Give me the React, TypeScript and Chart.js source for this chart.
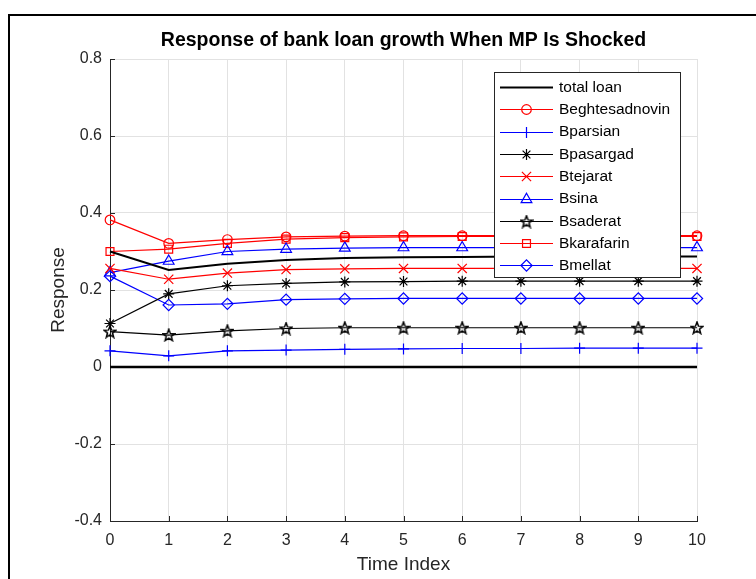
import React, { useEffect, useRef } from "react";
import { Chart, registerables } from "chart.js";

Chart.register(...registerables);

// ---------------- data ----------------
const timeIndex = [0, 1, 2, 3, 4, 5, 6, 7, 8, 9, 10];
const totalLoan = [0.300, 0.252, 0.268, 0.278, 0.283, 0.285, 0.286, 0.287, 0.287, 0.287, 0.287];
const beghtesadnovin = [0.382, 0.321, 0.331, 0.338, 0.340, 0.341, 0.341, 0.341, 0.341, 0.341, 0.341];
const bparsian = [0.042, 0.029, 0.042, 0.044, 0.046, 0.047, 0.048, 0.048, 0.049, 0.049, 0.049];
const bpasargad = [0.113, 0.190, 0.211, 0.217, 0.221, 0.222, 0.223, 0.223, 0.223, 0.223, 0.223];
const btejarat = [0.256, 0.228, 0.244, 0.253, 0.255, 0.256, 0.256, 0.256, 0.256, 0.256, 0.256];
const bsina = [0.245, 0.275, 0.300, 0.306, 0.309, 0.310, 0.310, 0.310, 0.310, 0.310, 0.310];
const bsaderat = [0.092, 0.083, 0.094, 0.100, 0.102, 0.102, 0.102, 0.102, 0.102, 0.102, 0.102];
const bkarafarin = [0.300, 0.306, 0.321, 0.332, 0.336, 0.338, 0.339, 0.339, 0.339, 0.339, 0.339];
const bmellat = [0.236, 0.161, 0.164, 0.175, 0.177, 0.178, 0.178, 0.178, 0.178, 0.178, 0.178];
const zeroLine = [0, 0, 0, 0, 0, 0, 0, 0, 0, 0, 0];

const seriesNames = [
  "total loan",
  "Beghtesadnovin",
  "Bparsian",
  "Bpasargad",
  "Btejarat",
  "Bsina",
  "Bsaderat",
  "Bkarafarin",
  "Bmellat",
];
const seriesValues = [
  totalLoan,
  beghtesadnovin,
  bparsian,
  bpasargad,
  btejarat,
  bsina,
  bsaderat,
  bkarafarin,
  bmellat,
];
const yTickValues = [-0.4, -0.2, 0, 0.2, 0.4, 0.6, 0.8];
const chartTitle = "Response of bank loan growth When MP Is Shocked";
const xTitle = "Time Index";
const yTitle = "Response";

// ---------------- styles ----------------
const RED = "#ff0000";
const BLUE = "#0000ff";
const BLACK = "#000000";
const seriesColors = [BLACK, RED, BLUE, BLACK, RED, BLUE, BLACK, RED, BLUE];
const seriesMarkers = ["none", "circle", "cross", "star", "crossRot", "triangle", "pentagram", "rect", "rectRot"];
const markerRadius: Record<string, number> = {
  none: 0,
  circle: 4.8,
  cross: 5.5,
  star: 5.5,
  crossRot: 6.5,
  triangle: 6.2,
  pentagram: 6,
  rect: 5.6,
  rectRot: 5.6,
};
const FONT = '"Liberation Sans", Arial, Helvetica, sans-serif';
const LW = 1.2;

function makePentagram(size: number, color: string): HTMLCanvasElement {
  const c = document.createElement("canvas");
  c.width = size;
  c.height = size;
  const ctx = c.getContext("2d")!;
  const cx = size / 2;
  const cy = size / 2 + 0.5;
  const R = size / 2 - 0.8;
  const r = R * 0.42;
  ctx.beginPath();
  for (let i = 0; i < 10; i++) {
    const ang = -Math.PI / 2 + (i * Math.PI) / 5;
    const rad = i % 2 === 0 ? R : r;
    const px = cx + rad * Math.cos(ang);
    const py = cy + rad * Math.sin(ang);
    if (i === 0) ctx.moveTo(px, py);
    else ctx.lineTo(px, py);
  }
  ctx.closePath();
  ctx.strokeStyle = color;
  ctx.lineWidth = 1.5;
  ctx.stroke();
  return c;
}

function drawMarker(
  ctx: CanvasRenderingContext2D,
  style: string,
  x: number,
  y: number,
  r: number,
  color: string,
  img: HTMLCanvasElement
) {
  if (style === "none") return;
  ctx.save();
  ctx.strokeStyle = color;
  ctx.lineWidth = LW;
  if (style === "pentagram") {
    ctx.drawImage(img, x - img.width / 2, y - img.height / 2);
    ctx.restore();
    return;
  }
  ctx.beginPath();
  const q = Math.SQRT1_2 * r;
  switch (style) {
    case "circle":
      ctx.arc(x, y, r, 0, Math.PI * 2);
      break;
    case "cross":
      ctx.moveTo(x - r, y);
      ctx.lineTo(x + r, y);
      ctx.moveTo(x, y - r);
      ctx.lineTo(x, y + r);
      break;
    case "crossRot":
      ctx.moveTo(x - q, y - q);
      ctx.lineTo(x + q, y + q);
      ctx.moveTo(x - q, y + q);
      ctx.lineTo(x + q, y - q);
      break;
    case "star":
      ctx.moveTo(x - r, y);
      ctx.lineTo(x + r, y);
      ctx.moveTo(x, y - r);
      ctx.lineTo(x, y + r);
      ctx.moveTo(x - q, y - q);
      ctx.lineTo(x + q, y + q);
      ctx.moveTo(x - q, y + q);
      ctx.lineTo(x + q, y - q);
      break;
    case "triangle":
      ctx.moveTo(x, y - r);
      ctx.lineTo(x + 0.866 * r, y + 0.5 * r);
      ctx.lineTo(x - 0.866 * r, y + 0.5 * r);
      ctx.closePath();
      break;
    case "rect":
      ctx.rect(x - q, y - q, 2 * q, 2 * q);
      break;
    case "rectRot":
      ctx.moveTo(x - r, y);
      ctx.lineTo(x, y - r);
      ctx.lineTo(x + r, y);
      ctx.lineTo(x, y + r);
      ctx.closePath();
      break;
  }
  ctx.stroke();
  ctx.restore();
}

export default function App() {
  const ref = useRef<HTMLCanvasElement>(null);

  useEffect(() => {
    const canvas = ref.current;
    if (!canvas) return;
    const pent = makePentagram(14, BLACK);

    const datasets: any[] = seriesNames.map((name, i) => {
      const marker = seriesMarkers[i];
      return {
        label: name,
        data: timeIndex.map((t, k) => ({ x: t, y: seriesValues[i][k] })),
        borderColor: seriesColors[i],
        backgroundColor: "rgba(0,0,0,0)",
        borderWidth: i === 0 ? 2 : LW,
        pointStyle: marker === "none" ? false : marker === "pentagram" ? pent : marker,
        pointRadius: markerRadius[marker],
        pointHoverRadius: markerRadius[marker],
        pointBorderColor: seriesColors[i],
        pointBackgroundColor: "rgba(0,0,0,0)",
        pointBorderWidth: LW,
        tension: 0,
        fill: false,
        clip: false,
      };
    });
    datasets.push({
      label: "zero",
      data: timeIndex.map((t, k) => ({ x: t, y: zeroLine[k] })),
      borderColor: BLACK,
      borderWidth: 2.5,
      pointRadius: 0,
      tension: 0,
      fill: false,
      clip: false,
    });

    const decorPlugin = {
      id: "decor",
      beforeDatasetsDraw(chart: any) {
        const { ctx, chartArea, scales } = chart;
        ctx.save();
        ctx.strokeStyle = "#262626";
        ctx.lineWidth = 1;
        ctx.beginPath();
        timeIndex.forEach((t) => {
          const x = Math.round(scales.x.getPixelForValue(t)) + 0.5;
          ctx.moveTo(x, chartArea.bottom);
          ctx.lineTo(x, chartArea.bottom - 5);
        });
        yTickValues.forEach((v) => {
          const y = Math.round(scales.y.getPixelForValue(v)) + 0.5;
          ctx.moveTo(chartArea.left, y);
          ctx.lineTo(chartArea.left + 5, y);
        });
        ctx.stroke();
        ctx.restore();
      },
      afterDraw(chart: any) {
        const { ctx, chartArea } = chart;
        // title
        ctx.save();
        ctx.fillStyle = "#000";
        ctx.font = `bold 19.5px ${FONT}`;
        ctx.textAlign = "center";
        ctx.textBaseline = "middle";
        ctx.fillText(chartTitle, (chartArea.left + chartArea.right) / 2, 41);
        ctx.restore();

        // legend
        const bx = 494.5;
        const by = 72.5;
        const bw = 186;
        const bh = 205;
        ctx.save();
        ctx.fillStyle = "#ffffff";
        ctx.fillRect(bx, by, bw, bh);
        ctx.strokeStyle = "#262626";
        ctx.lineWidth = 1;
        ctx.strokeRect(bx, by, bw, bh);
        ctx.font = `15.5px ${FONT}`;
        ctx.textAlign = "left";
        ctx.textBaseline = "middle";
        seriesNames.forEach((name, i) => {
          const y = 87 + i * 22.3;
          ctx.strokeStyle = seriesColors[i];
          ctx.lineWidth = i === 0 ? 2 : LW;
          ctx.beginPath();
          ctx.moveTo(500, Math.round(y) + 0.5);
          ctx.lineTo(553, Math.round(y) + 0.5);
          ctx.stroke();
          drawMarker(ctx, seriesMarkers[i], 526.5, Math.round(y) + 0.5, markerRadius[seriesMarkers[i]], seriesColors[i], pent);
          ctx.fillStyle = "#000";
          ctx.fillText(name, 559, y + 0.5);
        });
        ctx.restore();
      },
    };

    const chart = new Chart(canvas, {
      type: "line",
      data: { datasets },
      options: {
        animation: false,
        responsive: false,
        devicePixelRatio: 1,
        layout: { padding: { top: 59, right: 59, left: 0, bottom: 0 } },
        plugins: {
          legend: { display: false },
          title: { display: false },
          tooltip: { enabled: false },
        },
        font: { family: FONT },
        scales: {
          x: {
            type: "linear",
            min: 0,
            max: 10,
            afterFit: (s: any) => {
              s.height = 58;
            },
            grid: { color: "#e2e2e2", lineWidth: 1, drawTicks: false },
            border: { color: "#262626", width: 1 },
            ticks: {
              stepSize: 1,
              padding: 10,
              color: "#262626",
              font: { family: FONT, size: 16 },
              callback: (v: any) => String(v),
            },
            title: {
              display: true,
              text: xTitle,
              color: "#262626",
              font: { family: FONT, size: 19 },
              padding: { top: 0, bottom: 3 },
            },
          },
          y: {
            type: "linear",
            min: -0.4,
            max: 0.8,
            afterFit: (s: any) => {
              s.width = 110;
            },
            grid: { color: "#e2e2e2", lineWidth: 1, drawTicks: false },
            border: { color: "#262626", width: 1 },
            ticks: {
              stepSize: 0.2,
              padding: 8,
              color: "#262626",
              font: { family: FONT, size: 16 },
              callback: (v: any) => String(Math.round(Number(v) * 10) / 10),
            },
            title: {
              display: true,
              text: yTitle,
              color: "#262626",
              font: { family: FONT, size: 19 },
              padding: { top: 47, bottom: 0 },
            },
          },
        },
      } as any,
      plugins: [decorPlugin],
    });

    return () => chart.destroy();
  }, []);

  return (
    <>
      <div
        style={{
          position: "fixed",
          left: 8,
          top: 14,
          width: 900,
          height: 900,
          borderLeft: "2px solid #000",
          borderTop: "2px solid #000",
          boxSizing: "border-box",
        }}
      />
      <canvas
        ref={ref}
        width={756}
        height={579}
        style={{ position: "fixed", left: 0, top: 0, width: 756, height: 579 }}
      />
    </>
  );
}
